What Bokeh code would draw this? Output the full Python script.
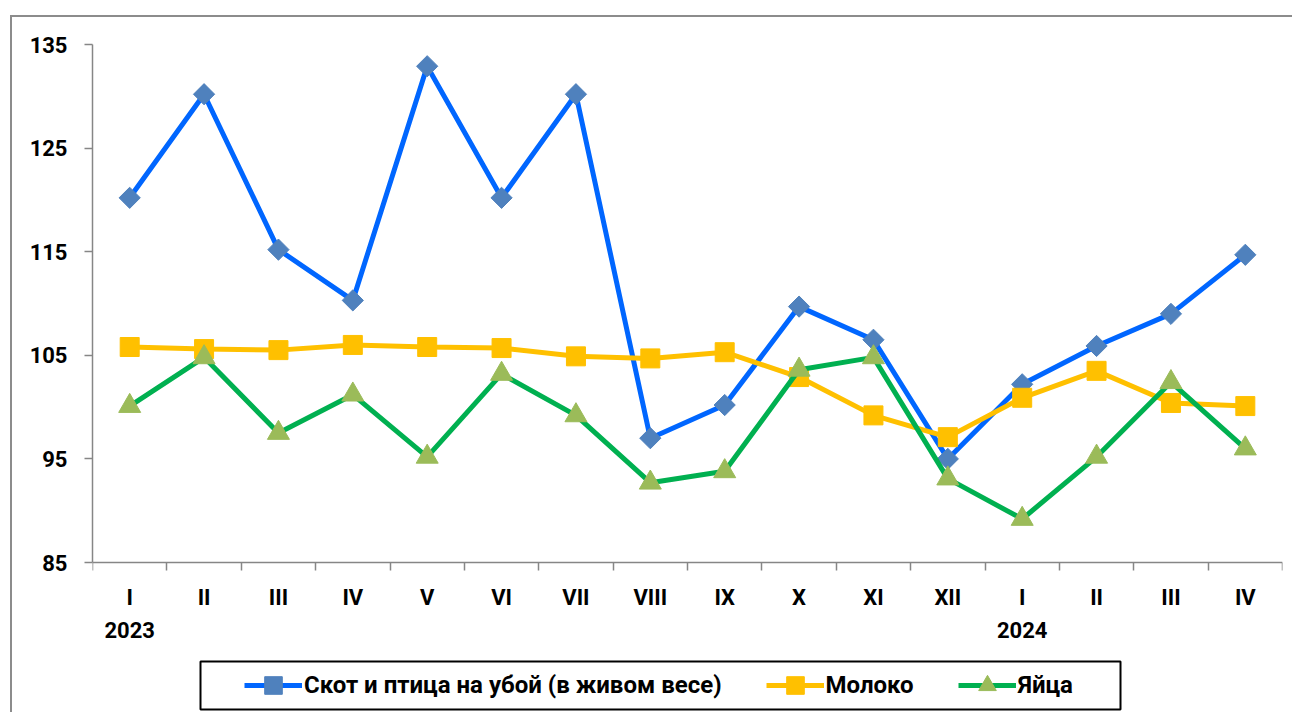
import math
from bokeh.plotting import figure
from bokeh.layouts import column
from bokeh.models import (Range1d, FixedTicker, LinearAxis, Legend, LegendItem, BoxAnnotation)
from bokeh.embed import file_html
from bokeh.resources import INLINE

months = ["I", "II", "III", "IV", "V", "VI", "VII", "VIII", "IX", "X", "XI", "XII",
          "I", "II", "III", "IV"]
years = ["2023", "2024"]
year_positions = [0, 12]

livestock = [120.2, 130.2, 115.2, 110.3, 132.9, 120.2, 130.2, 97.0, 100.2, 109.7,
             106.5, 95.0, 102.2, 105.9, 109.0, 114.7]
milk = [105.8, 105.6, 105.5, 106.0, 105.8, 105.7, 104.9, 104.7, 105.3, 102.9,
        99.2, 97.1, 100.9, 103.5, 100.4, 100.1]
eggs = [100.1, 104.8, 97.5, 101.2, 95.2, 103.2, 99.2, 92.7, 93.8, 103.6,
        104.8, 93.1, 89.2, 95.2, 102.4, 96.0]

labels = ["Скот и птица на убой (в живом весе)", "Молоко", "Яйца"]

FONT = "Roboto"
FS = "22px"
AXIS_COLOR = "#868686"

Y_MIN, Y_MAX = 85, 135
AXIS_PX = 518          # pixel height of the 85..135 value band
FRAME_PX = 668         # frame extends below the axis to hold labels and legend
y_low = Y_MAX - (Y_MAX - Y_MIN) * FRAME_PX / AXIS_PX

xs = [i + 0.5 for i in range(len(months))]

p = figure(frame_width=1190, frame_height=FRAME_PX, output_backend="svg",
           toolbar_location=None,
           x_range=Range1d(0, len(months)), y_range=Range1d(y_low, Y_MAX),
           min_border_left=80, min_border_right=10, min_border_top=27,
           min_border_bottom=0, x_axis_type=None)
p.outline_line_color = None
p.xgrid.visible = False
p.ygrid.visible = False

# y axis
p.yaxis.ticker = FixedTicker(ticks=[85, 95, 105, 115, 125, 135])
p.yaxis.bounds = (Y_MIN, Y_MAX)
p.yaxis.axis_line_color = AXIS_COLOR
p.yaxis.axis_line_width = 1.5
p.yaxis.major_tick_line_color = AXIS_COLOR
p.yaxis.major_tick_line_width = 1.5
p.yaxis.major_tick_out = 8
p.yaxis.major_tick_in = 0
p.yaxis.minor_tick_line_color = None
p.yaxis.major_label_standoff = 17
p.yaxis.major_label_text_font = FONT
p.yaxis.major_label_text_font_style = "bold"
p.yaxis.major_label_text_font_size = FS
p.yaxis.major_label_text_color = "black"

# x axis at y=85: month labels at centres, tick marks at boundaries
xa = LinearAxis(ticker=FixedTicker(ticks=xs, minor_ticks=list(range(len(months) + 1))),
                major_label_overrides={x: m for x, m in zip(xs, months)},
                fixed_location=Y_MIN)
xa.axis_line_color = AXIS_COLOR
xa.axis_line_width = 1.5
xa.major_tick_line_color = None
xa.major_tick_out = 0
xa.major_tick_in = 0
xa.minor_tick_line_color = AXIS_COLOR
xa.minor_tick_line_width = 1.5
xa.minor_tick_out = 8
xa.minor_tick_in = 0
xa.major_label_standoff = 14
xa.major_label_text_font = FONT
xa.major_label_text_font_style = "bold"
xa.major_label_text_font_size = FS
xa.major_label_text_color = "black"
p.add_layout(xa, "below")

ypos = [xs[i] for i in year_positions]
ya = LinearAxis(ticker=FixedTicker(ticks=ypos, minor_ticks=[]),
                major_label_overrides={x: y for x, y in zip(ypos, years)},
                fixed_location=Y_MIN)
ya.axis_line_color = None
ya.major_tick_line_color = None
ya.minor_tick_line_color = None
ya.major_tick_out = 0
ya.major_tick_in = 0
ya.major_label_standoff = 59
ya.major_label_text_font = FONT
ya.major_label_text_font_style = "bold"
ya.major_label_text_font_size = FS
ya.major_label_text_color = "black"
p.add_layout(ya, "below")

# series
l1 = p.line(xs, livestock, line_color="#0066FF", line_width=5)
s1 = p.scatter(xs, livestock, marker="square", size=15, angle=math.pi / 4,
               fill_color="#4F81BD", line_color="#4F81BD")
l2 = p.line(xs, milk, line_color="#FFC000", line_width=5)
s2 = p.scatter(xs, milk, marker="square", size=19, fill_color="#FFC000", line_color="#FFC000")
l3 = p.line(xs, eggs, line_color="#00B050", line_width=5)
s3 = p.scatter(xs, eggs, marker="triangle", size=22, fill_color="#9BBB59", line_color="#9BBB59")

# legend frame (screen units: x from frame left, y up from frame bottom)
legend_box = BoxAnnotation(left=108, right=1028, top=51, bottom=3,
                           left_units="screen", right_units="screen",
                           top_units="screen", bottom_units="screen",
                           fill_color="white", fill_alpha=1.0,
                           line_color="black", line_alpha=1.0, line_width=2,
                           level="underlay")
p.add_layout(legend_box)

legend = Legend(items=[LegendItem(label=labels[0], renderers=[l1, s1]),
                       LegendItem(label=labels[1], renderers=[l2, s2]),
                       LegendItem(label=labels[2], renderers=[l3, s3])],
                orientation="horizontal", location=(152, 5))
legend.border_line_color = None
legend.background_fill_color = None
legend.padding = 4
legend.margin = 0
legend.spacing = 44
legend.glyph_width = 58
legend.glyph_height = 44
legend.label_standoff = 2
legend.label_text_font = FONT
legend.label_text_font_style = "bold"
legend.label_text_font_size = "24px"
legend.label_text_color = "black"
p.add_layout(legend, "center")

layout = column(p)
layout.styles = {"margin-left": "10px", "margin-top": "15px",
                 "border-top": "2px solid #8c8c8c", "border-left": "2px solid #8c8c8c"}

open("out.html", "w").write(file_html(layout, INLINE))
